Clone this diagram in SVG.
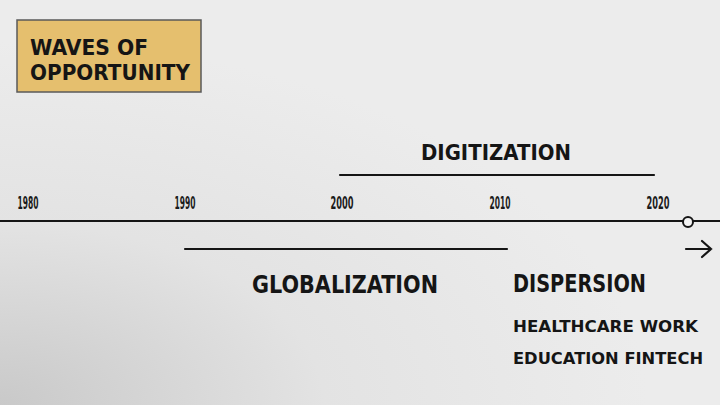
<svg xmlns="http://www.w3.org/2000/svg" width="720" height="405" viewBox="0 0 720 405">
<defs>
<radialGradient id="bg" cx="0" cy="1" r="0.9">
<stop offset="0" stop-color="#c9c9c9"/>
<stop offset="0.5" stop-color="#e3e3e3"/>
<stop offset="1" stop-color="#ececec"/>
</radialGradient>
<style>
.hand{font-family:"DejaVu Sans","Liberation Sans",sans-serif;font-weight:bold;fill:#151515;}
.yr{font-family:"DejaVu Sans Condensed","DejaVu Sans","Liberation Sans",sans-serif;font-weight:bold;font-size:17px;fill:#1a1a1a;text-anchor:middle;}
.ln{stroke:#151515;stroke-width:2.2;stroke-linecap:round;fill:none;}
</style>
</defs>
<rect width="720" height="405" fill="url(#bg)"/>
<g id="title">
<rect x="17" y="20" width="184" height="72" fill="#e5bf6e" stroke="#5a5a5a" stroke-width="1.5"/>
<text class="hand" x="30" y="55" font-size="21" textLength="118" lengthAdjust="spacingAndGlyphs">WAVES OF</text>
<text class="hand" x="30" y="80" font-size="21" textLength="160" lengthAdjust="spacingAndGlyphs">OPPORTUNITY</text>
</g>
<g id="connectors">
<line class="ln" x1="0" y1="221" x2="720" y2="221"/>
<line class="ln" x1="340" y1="175" x2="654" y2="175"/>
<line class="ln" x1="185" y1="249" x2="507" y2="249"/>
<path class="ln" d="M686 249 H711 M702 241 L711 249 L702 257"/>
</g>
<g id="now">
<circle cx="688" cy="222" r="5" fill="#f4f4f4" stroke="#151515" stroke-width="2"/>
</g>
<g id="years">
<text class="yr" x="28" y="209" textLength="21" lengthAdjust="spacingAndGlyphs">1980</text>
<text class="yr" x="185" y="209" textLength="21" lengthAdjust="spacingAndGlyphs">1990</text>
<text class="yr" x="342" y="209" textLength="23" lengthAdjust="spacingAndGlyphs">2000</text>
<text class="yr" x="500" y="209" textLength="21" lengthAdjust="spacingAndGlyphs">2010</text>
<text class="yr" x="658" y="209" textLength="23" lengthAdjust="spacingAndGlyphs">2020</text>
</g>
<g id="digitization">
<text class="hand" x="421" y="160" font-size="22" textLength="150" lengthAdjust="spacingAndGlyphs">DIGITIZATION</text>
</g>
<g id="globalization">
<text class="hand" x="252" y="293" font-size="24" textLength="186" lengthAdjust="spacingAndGlyphs">GLOBALIZATION</text>
</g>
<g id="dispersion">
<text class="hand" x="513" y="292" font-size="24" textLength="133" lengthAdjust="spacingAndGlyphs">DISPERSION</text>
<text class="hand" x="513" y="332" font-size="16" textLength="185" lengthAdjust="spacingAndGlyphs">HEALTHCARE  WORK</text>
<text class="hand" x="513" y="364" font-size="16" textLength="190" lengthAdjust="spacingAndGlyphs">EDUCATION  FINTECH</text>
</g>
</svg>
